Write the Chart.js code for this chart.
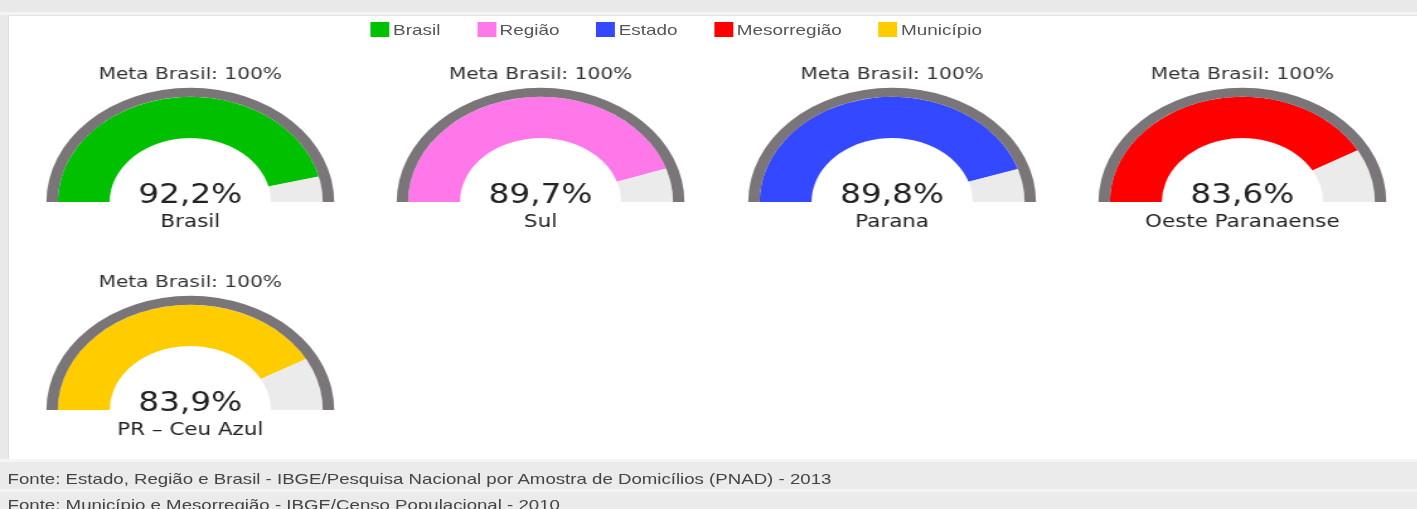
<!DOCTYPE html>
<html>
<head>
<meta charset="utf-8">
<script src="https://cdn.jsdelivr.net/npm/chart.js@4.4.1/dist/chart.umd.min.js"></script>
<style>
  html, body { margin: 0; padding: 0; background: #e9e9e9; overflow: hidden; }
  /* whole picture is horizontally stretched, so lay out narrow and scale */
  #page { position: absolute; left: 0; top: 0; width: 1125px; height: 509px;
          transform: scaleX(1.26); transform-origin: 0 0; }
  #topline { position: absolute; left: 0; top: 12px; width: 100%; height: 3px; background: #f4f4f4; }
  #panel { position: absolute; left: 6px; top: 15px; right: 0; height: 444px; background: #fff;
           border-left: 1px solid #dadada; border-top: 1px solid #e2e2e2; }
  #legend { position: absolute; left: 294px; top: 22px; display: flex; gap: 29px;
            font-family: "Liberation Sans", Arial, sans-serif; font-size: 15px; color: #555; }
  #legend .item { display: flex; align-items: center; height: 15px; }
  #legend .sw { width: 15px; height: 15px; margin-right: 3px; }
  canvas { position: absolute; }
  .foot { position: absolute; left: 0; right: 0; background: #ebebeb; border-top: 3px solid #f5f5f5;
          font-family: "Liberation Sans", Arial, sans-serif; font-size: 14.8px; color: #444;
          padding-left: 6px; box-sizing: border-box; white-space: nowrap; }
</style>
</head>
<body>
<div id="page">
  <div id="topline"></div>
  <div id="panel"></div>
  <div id="legend"></div>
  <div class="foot" id="foot1" style="top:459px;height:31px;line-height:34px;"></div>
  <div class="foot" id="foot2" style="top:489px;height:20px;line-height:27px;"></div>
</div>
<script>
// data
const categories = ["Brasil", "Região", "Estado", "Mesorregião", "Município"];
const places = ["Brasil", "Sul", "Parana", "Oeste Paranaense", "PR – Ceu Azul"];
const values = [92.2, 89.7, 89.8, 83.6, 83.9];
const goal = 100;
const goalLabel = "Meta Brasil: 100%";
const sources = [
  "Fonte: Estado, Região e Brasil - IBGE/Pesquisa Nacional por Amostra de Domicílios (PNAD) - 2013",
  "Fonte: Município e Mesorregião - IBGE/Censo Populacional - 2010"
];

// styles / layout
const colors = ["#00c000", "#ff78ea", "#3348ff", "#ff0000", "#ffcc00"];
const ringColor = "#7a7578";
const restColor = "#ebebeb";
const centers = [[151, 202], [429, 202], [708, 202], [986, 202], [151, 410]];

// legend
const legendDiv = document.getElementById("legend");
categories.forEach((c, i) => {
  const item = document.createElement("div");
  item.className = "item";
  item.innerHTML = `<span class="sw" style="background:${colors[i]}"></span>${c}`;
  legendDiv.appendChild(item);
});
document.getElementById("foot1").innerText = sources[0];
document.getElementById("foot2").innerText = sources[1];

// draws value and place name inside the gauge
const centerText = {
  id: "centerText",
  afterDraw(chart, args, opts) {
    const arc = chart.getDatasetMeta(1).data[0];
    const ctx = chart.ctx;
    ctx.save();
    ctx.textAlign = "center";
    ctx.textBaseline = "alphabetic";
    ctx.fillStyle = "#222";
    ctx.font = '26px "DejaVu Sans"';
    ctx.fillText(opts.value, arc.x, arc.y + 1);
    ctx.font = '17px "DejaVu Sans"';
    ctx.fillText(opts.place, arc.x, arc.y + 25);
    ctx.restore();
  }
};

const page = document.getElementById("page");
values.forEach((v, i) => {
  const cv = document.createElement("canvas");
  cv.width = 260;
  cv.height = 171;
  cv.style.left = (centers[i][0] - 130) + "px";
  cv.style.top = (centers[i][1] - 137) + "px";
  page.appendChild(cv);

  new Chart(cv.getContext("2d"), {
    type: "doughnut",
    data: {
      labels: [places[i], ""],
      datasets: [
        { data: [goal], backgroundColor: [ringColor], borderWidth: 0, weight: 9 },
        { data: [v, goal - v], backgroundColor: [colors[i], restColor], borderWidth: 0, weight: 41 }
      ]
    },
    options: {
      responsive: false,
      animation: false,
      rotation: -90,
      circumference: 180,
      cutout: "56%",
      layout: { padding: { bottom: 34 } },
      events: [],
      plugins: {
        legend: { display: false },
        tooltip: { enabled: false },
        title: {
          display: true,
          text: goalLabel,
          color: "#333",
          font: { family: "DejaVu Sans", size: 16, weight: "normal" },
          padding: { top: 0, bottom: 3.6 }
        },
        centerText: { value: v.toFixed(1).replace(".", ",") + "%", place: places[i] }
      }
    },
    plugins: [centerText]
  });
});
</script>
</body>
</html>
